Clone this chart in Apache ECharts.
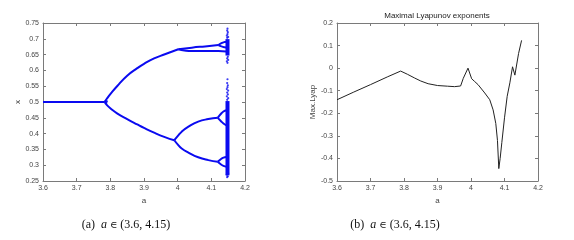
<!DOCTYPE html>
<html><head><meta charset="utf-8">
<script src="https://cdn.jsdelivr.net/npm/echarts@6/dist/echarts.min.js"></script>
<style>html,body{margin:0;padding:0;background:#fff}#c{width:574px;height:240px}</style>
</head><body><div id="c"></div>
<script>
// ---- Data: bifurcation diagram (a, x) ----
const fixedBranch = [[3.6, 0.5], [3.7, 0.5], [3.783, 0.5]];
const p2Upper = [[3.783, 0.5], [3.79, 0.511], [3.80, 0.525], [3.82, 0.550], [3.85, 0.583], [3.88, 0.607], [3.90, 0.621], [3.93, 0.638], [3.962, 0.651], [3.982, 0.659], [4.002, 0.667]];
const p2Lower = [[3.783, 0.5], [3.79, 0.490], [3.80, 0.480], [3.82, 0.464], [3.85, 0.446], [3.88, 0.429], [3.90, 0.418], [3.93, 0.403], [3.962, 0.389], [3.99, 0.379]];
const p4UpperA = [[4.002, 0.667], [4.042, 0.672], [4.081, 0.676], [4.121, 0.680]];
const p4UpperB = [[4.002, 0.667], [4.02, 0.663], [4.042, 0.661], [4.081, 0.661], [4.121, 0.661], [4.145, 0.660]];
const p4LowerA = [[3.99, 0.379], [4.0, 0.392], [4.012, 0.406], [4.032, 0.422], [4.061, 0.438], [4.091, 0.446], [4.119, 0.450]];
const p4LowerB = [[3.99, 0.379], [4.0, 0.366], [4.012, 0.353], [4.032, 0.340], [4.061, 0.325], [4.091, 0.316], [4.119, 0.311]];
const p8Loops = [
  [[4.121, 0.680], [4.13, 0.686], [4.140, 0.690], [4.146, 0.691]],
  [[4.121, 0.680], [4.13, 0.676], [4.140, 0.673], [4.146, 0.672]],
  [[4.119, 0.450], [4.128, 0.462], [4.136, 0.470], [4.145, 0.474]],
  [[4.119, 0.450], [4.128, 0.440], [4.136, 0.432], [4.145, 0.426]],
  [[4.119, 0.311], [4.128, 0.319], [4.136, 0.324], [4.145, 0.326]],
  [[4.119, 0.311], [4.128, 0.303], [4.136, 0.298], [4.145, 0.295]]
];
const chaosBands = [
  [[4.148, 0.647], [4.148, 0.699]],
  [[4.148, 0.268], [4.148, 0.503]]
];
const chaosDots = [
  [4.148, 0.732], [4.147, 0.726], [4.149, 0.721], [4.148, 0.715], [4.146, 0.710], [4.150, 0.706], [4.147, 0.703],
  [4.149, 0.643], [4.147, 0.638], [4.150, 0.633], [4.146, 0.629], [4.148, 0.624],
  [4.148, 0.572], [4.147, 0.560], [4.149, 0.553], [4.148, 0.547], [4.146, 0.541], [4.150, 0.536],
  [4.147, 0.530], [4.149, 0.524], [4.146, 0.518], [4.150, 0.512], [4.147, 0.507],
  [4.149, 0.265], [4.147, 0.262], [4.146, 0.270], [4.150, 0.274],
  [3.786, 0.503], [3.788, 0.497], [3.790, 0.502], [3.787, 0.499]
];

// ---- Data: maximal Lyapunov exponent ----
const lyapA = [3.6, 3.65, 3.7, 3.75, 3.79, 3.81, 3.832, 3.85, 3.872, 3.9, 3.93, 3.951, 3.969, 3.977, 3.991, 4.002, 4.01, 4.021, 4.041, 4.056, 4.066, 4.074, 4.079, 4.083, 4.087, 4.092, 4.1, 4.108, 4.116, 4.124, 4.131, 4.142, 4.151];
const lyapV = [-0.140, -0.106, -0.073, -0.039, -0.013, -0.027, -0.044, -0.057, -0.069, -0.077, -0.080, -0.082, -0.079, -0.045, 0.0, -0.047, -0.058, -0.073, -0.110, -0.140, -0.185, -0.245, -0.320, -0.445, -0.400, -0.330, -0.220, -0.125, -0.065, 0.006, -0.031, 0.065, 0.123];

const xTicks = { min: 3.6, max: 4.2, interval: 0.1 };
const yTicksBif = { min: 0.25, max: 0.75, interval: 0.05 };
const yTicksLyap = { min: -0.5, max: 0.2, interval: 0.1 };

const BLUE = '#0a0af0';
const AXC = '#7a7a7a';
const TXT = '#444';
const FONT = 'Liberation Sans';

function axisBase(extra) {
  return Object.assign({
    type: 'value',
    axisLine: { show: true, onZero: false, lineStyle: { color: AXC, width: 1 } },
    axisTick: { show: true, inside: true, length: 3, lineStyle: { color: AXC } },
    splitLine: { show: false },
    axisLabel: { show: true, color: TXT, fontSize: 7, fontFamily: FONT, margin: 4 },
    nameTextStyle: { color: TXT, fontSize: 8, fontFamily: FONT }
  }, extra);
}

const chart = echarts.init(document.getElementById('c'), null, { renderer: 'canvas' });

const series = [];
function bifLine(data) {
  series.push({
    type: 'line', xAxisIndex: 0, yAxisIndex: 0, data: data, showSymbol: false,
    smooth: 0.5, animation: false,
    lineStyle: { color: BLUE, width: 2 }
  });
}
[fixedBranch, p2Upper, p2Lower, p4UpperA, p4UpperB, p4LowerA, p4LowerB].forEach(bifLine);
p8Loops.forEach(bifLine);
chaosBands.forEach(function (d) {
  series.push({
    type: 'line', xAxisIndex: 0, yAxisIndex: 0, data: d, showSymbol: false, animation: false,
    lineStyle: { color: BLUE, width: 4 }
  });
});
series.push({
  type: 'scatter', xAxisIndex: 0, yAxisIndex: 0, data: chaosDots, symbolSize: 2.2,
  itemStyle: { color: BLUE }, animation: false
});
series.push({
  type: 'line', xAxisIndex: 2, yAxisIndex: 2, showSymbol: false, animation: false,
  data: lyapA.map(function (a, i) { return [a, lyapV[i]]; }),
  lineStyle: { color: '#222', width: 1 }
});

chart.setOption({
  animation: false,
  backgroundColor: '#fff',
  grid: [
    { left: 43, top: 23, width: 202, height: 158 },
    { left: 337, top: 23, width: 201, height: 158 }
  ],
  xAxis: [
    axisBase(Object.assign({ gridIndex: 0, position: 'bottom', name: 'a', nameLocation: 'middle', nameGap: 13 }, xTicks)),
    axisBase(Object.assign({ gridIndex: 0, position: 'top', axisLabel: { show: false } }, xTicks)),
    axisBase(Object.assign({ gridIndex: 1, position: 'bottom', name: 'a', nameLocation: 'middle', nameGap: 13 }, xTicks)),
    axisBase(Object.assign({ gridIndex: 1, position: 'top', axisLabel: { show: false } }, xTicks))
  ],
  yAxis: [
    axisBase(Object.assign({ gridIndex: 0, position: 'left', name: 'x', nameLocation: 'middle', nameGap: 17 }, yTicksBif)),
    axisBase(Object.assign({ gridIndex: 0, position: 'right', axisLabel: { show: false } }, yTicksBif)),
    axisBase(Object.assign({ gridIndex: 1, position: 'left', name: 'Max.Lyap', nameLocation: 'middle', nameGap: 15 }, yTicksLyap)),
    axisBase(Object.assign({ gridIndex: 1, position: 'right', axisLabel: { show: false } }, yTicksLyap))
  ],
  graphic: [
    { type: 'text', x: 437, y: 16, style: { text: 'Maximal Lyapunov exponents', align: 'center', verticalAlign: 'middle', font: '8px "Liberation Sans"', fill: '#222' } },
    { type: 'text', x: 126, y: 225, style: { text: '(a)  {i|a} {s|∈} (3.6, 4.15)', align: 'center', verticalAlign: 'middle', font: '12px "Liberation Serif"', fill: '#111', rich: { i: { fontStyle: 'italic', fontFamily: 'Liberation Serif', fontSize: 12, fill: '#111' }, s: { fontFamily: 'DejaVu Serif', fontSize: 10, fill: '#111' } } } },
    { type: 'text', x: 395, y: 225, style: { text: '(b)  {i|a} {s|∈} (3.6, 4.15)', align: 'center', verticalAlign: 'middle', font: '12px "Liberation Serif"', fill: '#111', rich: { i: { fontStyle: 'italic', fontFamily: 'Liberation Serif', fontSize: 12, fill: '#111' }, s: { fontFamily: 'DejaVu Serif', fontSize: 10, fill: '#111' } } } }
  ],
  series: series
});
</script>
</body></html>
